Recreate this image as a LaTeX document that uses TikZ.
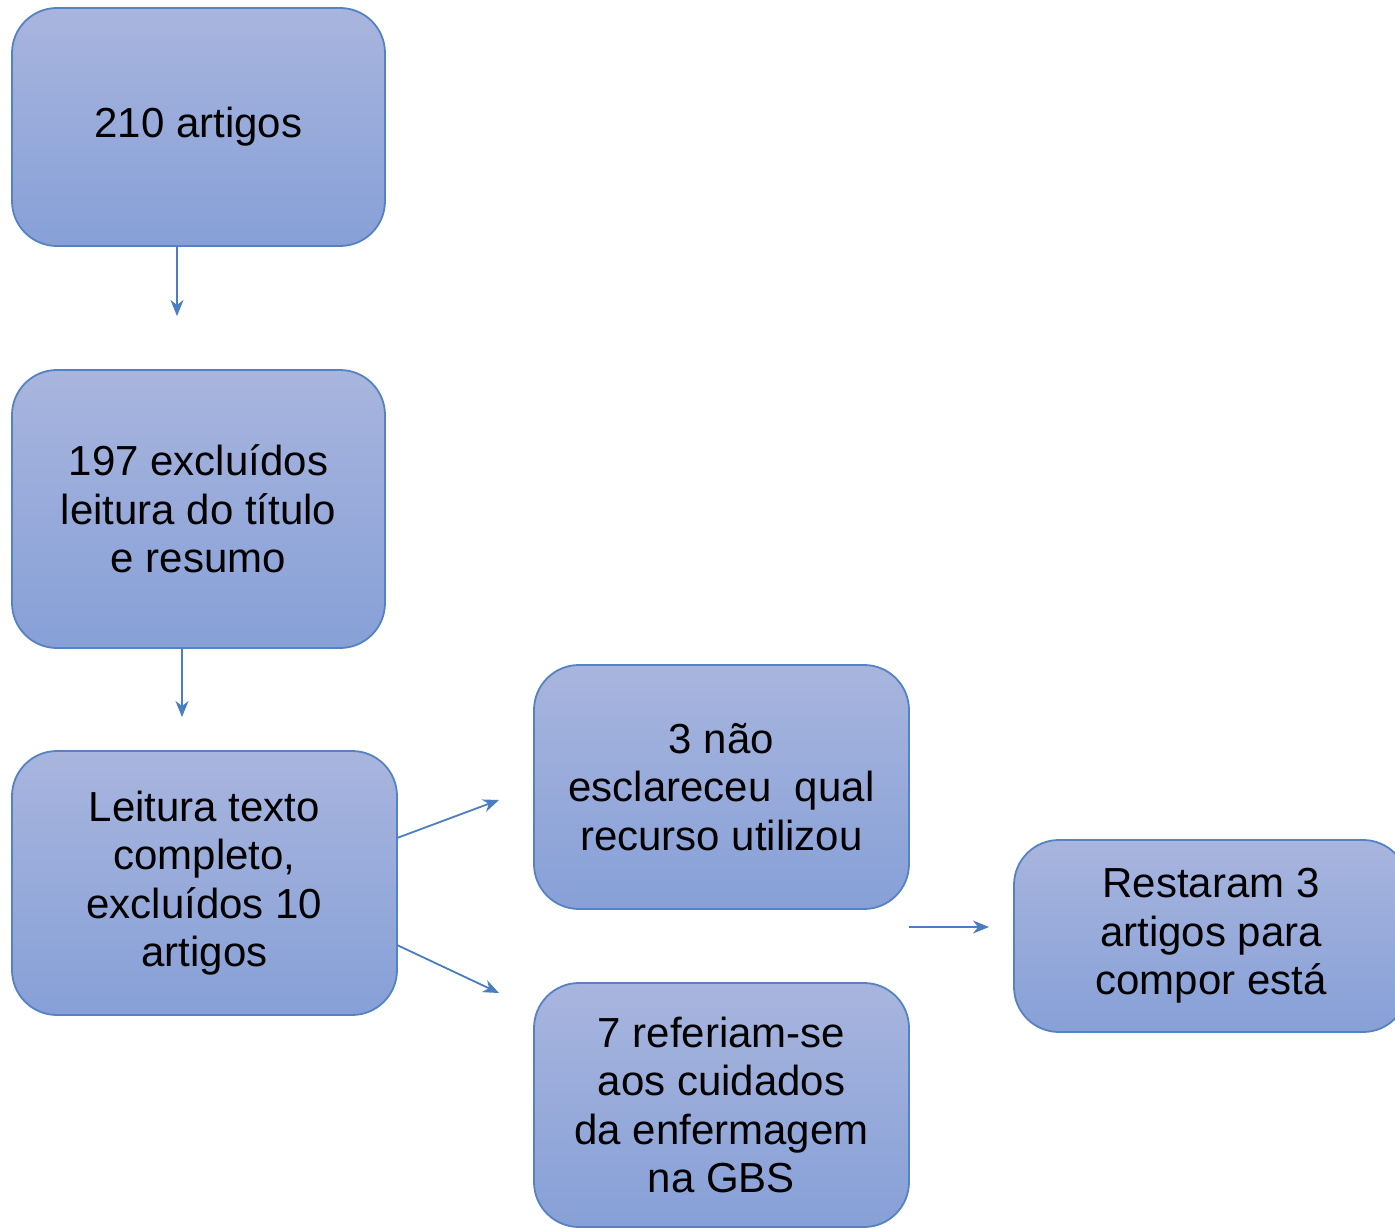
\documentclass[tikz,border=0pt]{standalone}
\usepackage{fontspec}
\setmainfont{Liberation Sans}
\usetikzlibrary{arrows.meta,shadings}
\definecolor{boxtop}{HTML}{A8B5DE}
\definecolor{boxbot}{HTML}{87A0D7}
\definecolor{boxline}{HTML}{5582C2}
\definecolor{arrowc}{HTML}{4A7EC0}
\begin{document}
\begin{tikzpicture}[x=1pt,y=-1pt,
  flowbox/.style={draw=boxline, line width=1.8pt, rounded corners=45pt,
    top color=boxtop, bottom color=boxbot, align=center, inner sep=0pt,
    font=\fontsize{42}{48.5}\selectfont},
  conn/.style={draw=arrowc, line width=1.8pt, -{Stealth[length=16pt,width=13pt,inset=5pt]}}]
\useasboundingbox (0,0) rectangle (1395,1228);
\clip (0,0) rectangle (1395,1228);
\node[flowbox, minimum width=373pt, minimum height=238pt] (b1) at (198.5,127) {210 artigos};
\node[flowbox, minimum width=373pt, minimum height=278pt] (b2) at (198.5,509) {197 excluídos\\leitura do título\\e resumo};
\node[flowbox, minimum width=385pt, minimum height=264pt] (b3) at (204.5,883) {Leitura texto\\completo,\\excluídos 10\\artigos};
\node[flowbox, minimum width=375pt, minimum height=244pt] (b4) at (721.5,787) {3 não\\esclareceu\ \ qual\\recurso utilizou};
\node[flowbox, minimum width=375pt, minimum height=244pt] (b5) at (721.5,1105) {7 referiam-se\\aos cuidados\\da enfermagem\\na GBS};
\node[flowbox, minimum width=394pt, minimum height=192pt] (b6) at (1211,936) {Restaram 3\\artigos para\\compor está};
\coordinate (e1) at (177,316);
\coordinate (e2) at (182,717);
\coordinate (s3a) at (397,838);
\coordinate (e3a) at (499,800);
\coordinate (s3b) at (397,945);
\coordinate (e3b) at (499,993);
\coordinate (s4) at (909,927);
\coordinate (e4) at (989,927);
\draw[conn] (b1.south -| e1) -- (e1);
\draw[conn] (b2.south -| e2) -- (e2);
\draw[conn] (s3a) -- (e3a);
\draw[conn] (s3b) -- (e3b);
\draw[conn] (s4) -- (e4);
\end{tikzpicture}
\end{document}
